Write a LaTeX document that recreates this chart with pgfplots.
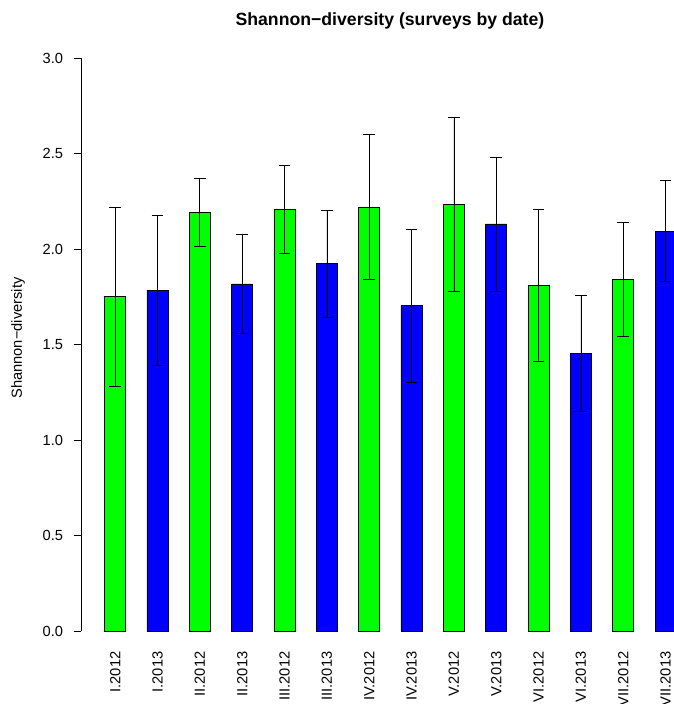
\documentclass[border=0pt]{standalone}
\usepackage{fontspec}
\setmainfont{Liberation Sans}
\usepackage{pgfplots}
\pgfplotsset{compat=1.18}
\usepackage{pgfplotstable}
\definecolor{rgreen}{RGB}{0,255,0}
\definecolor{rblue}{RGB}{0,0,255}
\pgfplotstableread{
x y e
0 1.750 0.470
2 2.192 0.178
4 2.208 0.232
6 2.220 0.379
8 2.234 0.454
10 1.810 0.398
12 1.841 0.298
}\greendata
\pgfplotstableread{
x y e
1 1.785 0.393
3 1.817 0.257
5 1.923 0.281
7 1.703 0.400
9 2.131 0.351
11 1.454 0.302
13 2.094 0.265
}\bluedata
\begin{document}
\begin{tikzpicture}
\begin{axis}[
  at={(0,0)}, anchor=south west,
  scale only axis,
  width=444.75pt, height=429.75pt,
  xmin=-0.808, xmax=13.198,
  ymin=0, ymax=3,
  axis y line*=left,
  axis x line*=bottom,
  x axis line style={draw=none},
  y axis line style={black, line width=0.6pt},
  tick align=outside,
  major tick length=5.6pt,
  ytick={0,0.5,1,1.5,2,2.5,3},
  ytick style={black, line width=0.6pt},
  xtick style={draw=none},
  xtick={0,1,2,3,4,5,6,7,8,9,10,11,12,13},
  xticklabels={I.2012,I.2013,II.2012,II.2013,III.2012,III.2013,IV.2012,IV.2013,V.2012,V.2013,VI.2012,VI.2013,VII.2012,VII.2013},
  xticklabel style={rotate=90, anchor=east, inner sep=0pt, font=\fontsize{11}{13}\selectfont},
  xticklabel shift=9.6pt,
  yticklabel style={anchor=east, inner sep=0pt, font=\fontsize{11}{13}\selectfont,
    /pgf/number format/.cd, fixed, fixed zerofill, precision=1, assume math mode=true},
  yticklabel shift=7.7pt,
  ylabel={Shannon−diversity},
  every axis y label/.style={at={(axis description cs:-0.1062,0.5113)}, rotate=90, anchor=center, font=\fontsize{11}{13}\selectfont},
  title={Shannon−diversity (surveys by date)},
  title style={at={(axis description cs:0.521,1)}, anchor=base, yshift=18pt, font=\bfseries\fontsize{13.25}{15}\selectfont},
  ybar, bar width=0.5, bar shift=0pt,
  clip=true,
]
\addplot[fill=rgreen, draw=black, line width=0.6pt,
  error bars/.cd, y dir=both, y explicit,
  error bar style={black, line width=0.6pt},
  error mark options={rotate=90, mark size=4.4pt, black, line width=0.6pt}]
  table[x=x, y=y, y error=e] {\greendata};
\addplot[fill=rblue, draw=black, line width=0.6pt,
  error bars/.cd, y dir=both, y explicit,
  error bar style={black, line width=0.6pt},
  error mark options={rotate=90, mark size=4.4pt, black, line width=0.6pt}]
  table[x=x, y=y, y error=e] {\bluedata};
\end{axis}
\pgfresetboundingbox
\useasboundingbox (-60.75pt,-54.75pt) rectangle (444.75pt,473.25pt);
\end{tikzpicture}
\end{document}
